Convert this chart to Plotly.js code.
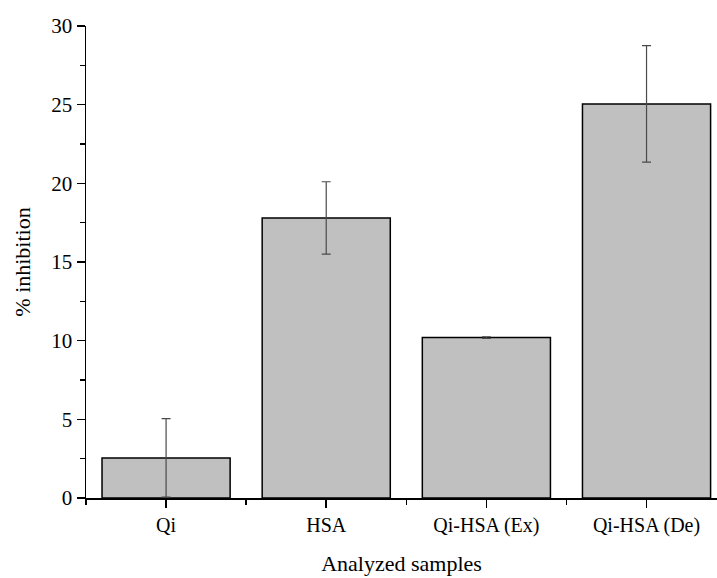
<!DOCTYPE html>
<html><head><meta charset="utf-8">
<script src="https://cdn.plot.ly/plotly-3.0.1.min.js"></script>
<style>html,body{margin:0;padding:0;background:#fff}#chart{width:717px;height:578px}</style>
</head><body><div id="chart"></div>
<script>
const categories = ["Qi", "HSA", "Qi-HSA (Ex)", "Qi-HSA (De)"];
const inhibition = [2.55, 17.8, 10.2, 25.05];
const errors = [2.5, 2.3, 0.05, 3.7];
const yTicks = [0, 5, 10, 15, 20, 25, 30];

const positions = categories.map((_, i) => i);
const font = {family: "Liberation Serif, Times New Roman, serif", color: "#000"};

Plotly.newPlot("chart", [{
  type: "bar",
  x: positions,
  y: inhibition,
  width: 0.8,
  marker: {color: "#c0c0c0", line: {color: "#000", width: 1.5}},
  error_y: {type: "data", array: errors, visible: true, color: "#4a4a4a", thickness: 1.2, width: 4.5}
}], {
  width: 717, height: 578,
  margin: {l: 86, r: 0, t: 26, b: 80},
  paper_bgcolor: "#fff", plot_bgcolor: "#fff",
  showlegend: false,
  font: Object.assign({size: 21}, font),
  xaxis: {
    range: [-0.5, 3.44],
    tickvals: positions, ticktext: categories,
    ticks: "outside", ticklen: 8, tickwidth: 1.5, tickcolor: "#000",
    minor: {tick0: 0.5, dtick: 1, ticks: "outside", ticklen: 5, tickwidth: 1.5, tickcolor: "#000"},
    showline: true, linecolor: "#000", linewidth: 1.5,
    showgrid: false, zeroline: false,
    tickfont: Object.assign({size: 20}, font),
    title: {text: "Analyzed samples", font: Object.assign({size: 22}, font), standoff: 20}
  },
  yaxis: {
    range: [0, 30],
    tickvals: yTicks,
    ticks: "outside", ticklen: 8, tickwidth: 1.5, tickcolor: "#000",
    minor: {tick0: 0, dtick: 2.5, ticks: "outside", ticklen: 5, tickwidth: 1.5, tickcolor: "#000"},
    showline: true, linecolor: "#000", linewidth: 1.5,
    showgrid: false, zeroline: false,
    tickfont: Object.assign({size: 21}, font),
    title: {text: "% inhibition", font: Object.assign({size: 22}, font), standoff: 14}
  }
}, {displayModeBar: false, staticPlot: true});
</script></body></html>
